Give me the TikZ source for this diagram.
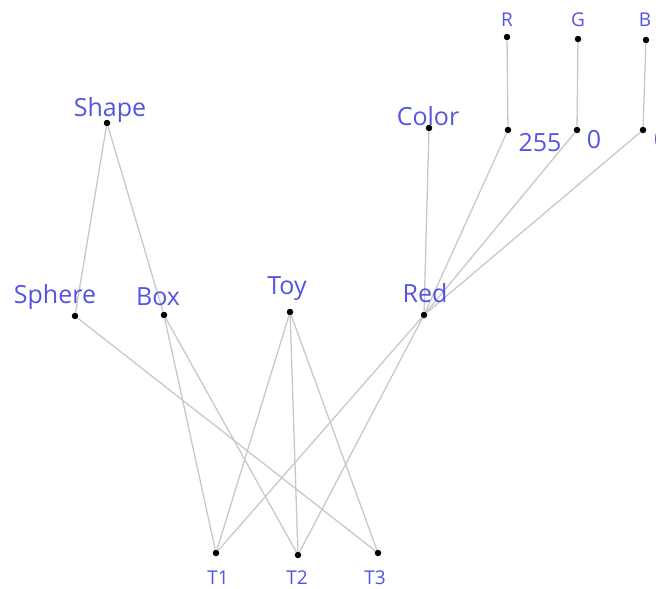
\documentclass[tikz,border=0pt]{standalone}
\usepackage{fontspec}
\setmainfont{Open Sans}
\definecolor{labelblue}{RGB}{84,84,228}
\definecolor{edgegray}{RGB}{200,200,200}
\begin{document}
\begin{tikzpicture}[x=1pt,y=-1pt,
  pt/.style={circle,fill=black,inner sep=0pt,minimum size=6.5pt},
  lbl/.style={text=labelblue,font=\fontsize{25}{25}\selectfont,inner sep=0pt},
  slbl/.style={text=labelblue,font=\fontsize{19}{19}\selectfont,inner sep=0pt},
  edge/.style={draw=edgegray,line width=1.3pt}]
\useasboundingbox (0,0) rectangle (656,589);
% vertices
\node[pt] (shape) at (107,123) {};
\node[pt] (sphere) at (75,316) {};
\node[pt] (box) at (164,315) {};
\node[pt] (toy) at (290,312) {};
\node[pt] (red) at (424,315) {};
\node[pt] (color) at (429,128) {};
\node[pt] (r) at (507,37) {};
\node[pt] (g) at (578,39) {};
\node[pt] (b) at (646,40) {};
\node[pt] (v255) at (508,130) {};
\node[pt] (g0) at (577,130) {};
\node[pt] (b0) at (643,130) {};
\node[pt] (t1) at (216,553) {};
\node[pt] (t2) at (298,555) {};
\node[pt] (t3) at (378,553) {};
% edges
\draw[edge] (shape) -- (sphere);
\draw[edge] (shape) -- (box);
\draw[edge] (color) -- (red);
\draw[edge] (r) -- (v255);
\draw[edge] (g) -- (g0);
\draw[edge] (b) -- (b0);
\draw[edge] (v255) -- (red);
\draw[edge] (g0) -- (red);
\draw[edge] (b0) -- (red);
\draw[edge] (sphere) -- (t3);
\draw[edge] (box) -- (t1);
\draw[edge] (box) -- (t2);
\draw[edge] (toy) -- (t1);
\draw[edge] (toy) -- (t2);
\draw[edge] (toy) -- (t3);
\draw[edge] (red) -- (t1);
\draw[edge] (red) -- (t2);
% labels
\node[lbl] (lshape) at (110,110) {Shape};
\node[lbl] (lsphere) at (55,297) {Sphere};
\node[lbl] (lbox) at (158,297) {Box};
\node[lbl] (ltoy) at (287,289) {Toy};
\node[lbl] (lred) at (425,293) {Red};
\node[lbl] (lcolor) at (428,116) {Color};
\node[slbl] (lr) at (507,20) {R};
\node[slbl] (lg) at (578,20) {G};
\node[slbl] (lb) at (645,20) {B};
\node[lbl] (l255) at (540,143) {255};
\node[lbl] (lg0) at (594,140) {0};
\node[lbl] (lb0) at (661,140) {0};
\node[slbl] (lt1) at (218,578) {T1};
\node[slbl] (lt2) at (297,578) {T2};
\node[slbl] (lt3) at (375,578) {T3};
\end{tikzpicture}
\end{document}
